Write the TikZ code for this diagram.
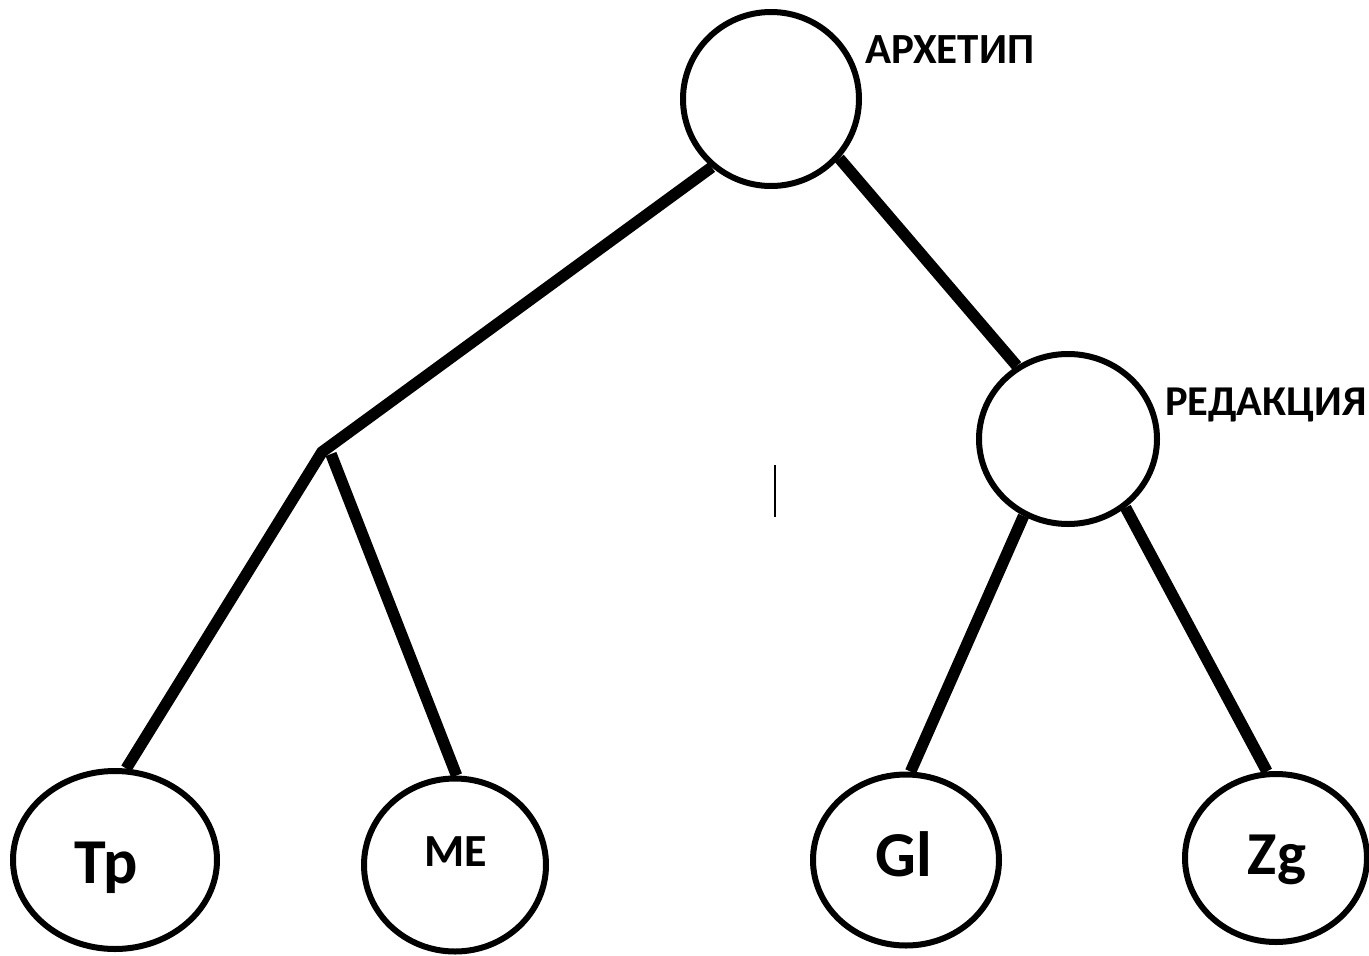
\documentclass[tikz,border=0pt]{standalone}
\usepackage{fontspec}
\setmainfont{Carlito}
\usetikzlibrary{shapes.geometric}
\begin{document}
\begin{tikzpicture}[x=1pt,y=-1pt,
  circ/.style={draw,ellipse,line width=6pt,inner sep=0pt,minimum width=#1},
  conn/.style={line width=11.5pt,line join=miter},
  lab/.style={font=\bfseries,anchor=base west,inner sep=0pt},
  inl/.style={font=\bfseries,anchor=base,inner sep=0pt}]
\useasboundingbox (0,0) rectangle (1369,956);
\node[circ=176pt,minimum height=174pt] (arch) at (771,99) {};
\node[circ=178pt,minimum height=170pt] (red) at (1068,439) {};
\node[circ=204pt,minimum height=178pt] (tp) at (115,860) {};
\node[circ=182pt,minimum height=173pt] (me) at (455,865) {};
\node[circ=186pt,minimum height=171pt] (gl) at (906,860) {};
\node[circ=182pt,minimum height=168pt] (zg) at (1276,858) {};
\coordinate (J) at (322,452);
\coordinate (J2) at (331,454);
\node[lab,font=\bfseries\fontsize{43}{43}\selectfont] (tarch) at (865,63) {АРХЕТИП};
\node[lab,font=\bfseries\fontsize{42.5}{42.5}\selectfont] (tred) at (1165,415) {РЕДАКЦИЯ};
\node[inl,font=\bfseries\fontsize{64}{64}\selectfont] (ttp) at (106,883) {Tp};
\node[inl,font=\bfseries\fontsize{46}{46}\selectfont] (tme) at (456,866) {ME};
\node[inl,font=\bfseries\fontsize{64}{64}\selectfont] (tgl) at (904,876) {Gl};
\node[inl,font=\bfseries\fontsize{61}{61}\selectfont] (tzg) at (1277,874) {Zg};
\draw[conn] (arch.229) -- (J) -- (tp.83);
\draw[conn] (J2) -- (me.89);
\draw[conn] (arch.319) -- (red.125);
\draw[conn] (red.240) -- (gl.87);
\draw[conn] (red.310) -- (zg.96);
\coordinate (c1) at (775,465);
\coordinate (c2) at (775,517);
\draw[line width=2pt] (c1) -- (c2);
\end{tikzpicture}
\end{document}
